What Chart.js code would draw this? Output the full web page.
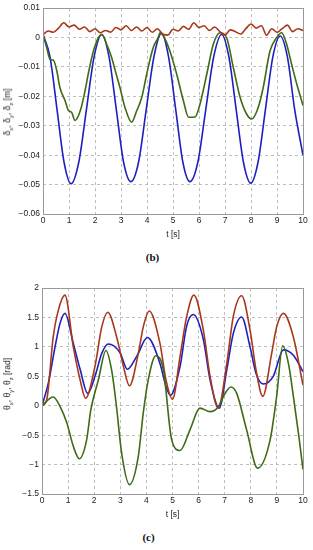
<!DOCTYPE html>
<html>
<head>
<meta charset="utf-8">
<script src="https://cdn.jsdelivr.net/npm/chart.js@4"></script>
<style>
  body { margin: 0; background: #fff; width: 313px; height: 550px; position: relative; overflow: hidden; }
  .box { position: absolute; left: 0; width: 313px; height: 240px; }
  .ylab { position: absolute; font: 8.5px "Liberation Sans", Arial, sans-serif; color: #222; white-space: nowrap;
          transform: translate(-50%, -50%) rotate(-90deg); }
  .ylab sub { font-size: 6px; }
  .cap { position: absolute; width: 313px; text-align: center; font: bold 11px "Liberation Serif", serif; color: #111; }
</style>
</head>
<body>
<div class="box" style="top:0"><canvas id="deltaChart"></canvas></div>
<div class="ylab" style="left:8px; top:112px">&delta;<sub>x</sub>, &delta;<sub>y</sub>, &delta;<sub>z</sub> [m]</div>
<div class="cap" style="top:251px; left:-4px">(b)</div>

<div class="box" style="top:280px"><canvas id="thetaChart"></canvas></div>
<div class="ylab" style="left:8px; top:384px">&theta;<sub>x</sub>, &theta;<sub>y</sub>, &theta;<sub>z</sub> [rad]</div>
<div class="cap" style="top:531px; left:-8px">(c)</div>

<script>
// x axis ticks, seconds
const timeTicks = [0, 1, 2, 3, 4, 5, 6, 7, 8, 9, 10];

// (b) displacement, metres -- [t, value] pairs
const deltaTicks = [0.01, 0, -0.01, -0.02, -0.03, -0.04, -0.05, -0.06];

const deltaBlue = [[0, 0.001], [0.27, -0.0066], [0.54, -0.0245], [0.81, -0.0424], [1.08, -0.0497],
  [1.375, -0.0424], [1.67, -0.0245], [1.965, -0.0066], [2.26, 0.001],
  [2.54, -0.0066], [2.82, -0.0245], [3.1, -0.0424], [3.38, -0.049],
  [3.675, -0.0424], [3.97, -0.0245], [4.265, -0.0066], [4.56, 0.0015],
  [4.83, -0.0066], [5.105, -0.0245], [5.38, -0.0424], [5.65, -0.049],
  [5.955, -0.0424], [6.26, -0.0245], [6.565, -0.0066], [6.87, 0.001],
  [7.15, -0.0066], [7.43, -0.0245], [7.71, -0.0424], [7.99, -0.0495],
  [8.27, -0.0424], [8.555, -0.0245], [8.84, -0.0066], [9.12, 0.0005],
  [9.4, -0.0066], [9.68, -0.0245], [10, -0.040]];

const deltaGreen = [[0, 0.001], [0.14, -0.0034], [0.27, -0.0074], [0.4, -0.0077], [0.53, -0.0113],
  [0.65, -0.017], [0.85, -0.0215], [0.98, -0.0248], [1.1, -0.0254], [1.23, -0.0282],
  [1.43, -0.025], [1.62, -0.018], [1.74, -0.0124], [1.94, -0.0046], [2.13, 0.0], [2.26, 0.001],
  [2.45, -0.0023], [2.64, -0.0068], [2.77, -0.011], [2.96, -0.017], [3.15, -0.0237], [3.41, -0.0288],
  [3.6, -0.025], [3.8, -0.0203], [3.99, -0.0124], [4.24, -0.0034], [4.43, 0.0], [4.5, 0.0016],
  [4.7, -0.0006], [4.88, -0.0046], [5.14, -0.0124], [5.4, -0.0215], [5.6, -0.0271], [5.85, -0.027],
  [6.04, -0.0226], [6.3, -0.0124], [6.55, -0.0023], [6.81, 0.0016], [7.06, 0.0], [7.32, -0.0102],
  [7.58, -0.0203], [7.83, -0.026], [8.03, -0.0277], [8.28, -0.0237], [8.47, -0.017], [8.73, -0.0046],
  [8.99, 0.0], [9.18, 0.0016], [9.37, -0.0023], [9.56, -0.009], [9.76, -0.0158], [10, -0.0231]];

const deltaRed = [[0, 0.0010], [0.2, 0.0022], [0.4, 0.0018], [0.6, 0.0032], [0.8, 0.0050], [1.0, 0.0036],
  [1.2, 0.0042], [1.4, 0.0028], [1.6, 0.0036], [1.8, 0.0020], [2.0, 0.0030], [2.2, 0.0016],
  [2.4, 0.0024], [2.6, 0.0018], [2.8, 0.0034], [3.0, 0.0026], [3.2, 0.0040], [3.4, 0.0024],
  [3.6, 0.0036], [3.8, 0.0022], [4.0, 0.0034], [4.2, 0.0018], [4.4, 0.0030], [4.6, 0.0012],
  [4.8, 0.0008], [5.0, 0.0028], [5.2, 0.0022], [5.4, 0.0038], [5.6, 0.0028], [5.8, 0.0050],
  [6.0, 0.0034], [6.2, 0.0040], [6.4, 0.0024], [6.6, 0.0036], [6.8, 0.0020], [7.0, 0.0008],
  [7.2, 0.0026], [7.4, 0.0020], [7.6, 0.0012], [7.8, 0.0030], [8.0, 0.0046], [8.2, 0.0032],
  [8.4, 0.0040], [8.6, 0.0008], [8.8, 0.0030], [9.0, 0.0018], [9.2, 0.0030], [9.4, 0.0042],
  [9.6, 0.0020], [9.8, 0.0030], [10.0, 0.0024]];

// (c) rotation, radians
const thetaTicks = [2, 1.5, 1, 0.5, 0, -0.5, -1, -1.5];

const thetaRed = [[0, 0], [0.18, 0.1], [0.43, 1.17], [0.63, 1.63], [0.88, 1.88], [1.2, 1.0], [1.46, 0.44],
  [1.67, 0.13], [2.03, 0.67], [2.29, 1.34], [2.52, 1.59], [2.86, 1.17], [3.12, 0.67], [3.35, 0.34],
  [3.69, 0.89], [3.88, 1.34], [4.11, 1.61], [4.52, 1.06], [4.75, 0.44], [5.0, 0.11], [5.29, 0.84],
  [5.54, 1.51], [5.82, 1.88], [6.18, 1.29], [6.44, 0.5], [6.75, -0.04], [7.08, 0.72], [7.33, 1.52],
  [7.65, 1.87], [7.97, 1.29], [8.2, 0.61], [8.46, 0.16], [8.8, 0.89], [8.99, 1.34], [9.25, 1.57],
  [9.63, 1.17], [10, 0.35]];

const thetaBlue = [[0, 0], [0.24, 0.38], [0.5, 1.0], [0.69, 1.4], [0.88, 1.57], [1.2, 1.06], [1.46, 0.62],
  [1.75, 0.21], [2.03, 0.5], [2.29, 0.89], [2.54, 1.05], [2.99, 0.9], [3.27, 0.62], [3.63, 0.84],
  [4.04, 1.16], [4.52, 0.72], [4.75, 0.33], [4.92, 0.18], [5.29, 0.67], [5.54, 1.35], [5.8, 1.55],
  [6.18, 1.13], [6.44, 0.44], [6.79, -0.04], [7.08, 0.61], [7.33, 1.23], [7.65, 1.51], [7.97, 1.0],
  [8.2, 0.55], [8.48, 0.37], [8.86, 0.5], [9.25, 0.95], [9.63, 0.86], [10, 0.58]];

const thetaGreen = [[0, 0], [0.43, 0.15], [0.69, -0.01], [0.95, -0.29], [1.2, -0.69], [1.43, -0.9],
  [1.71, -0.58], [1.87, -0.07], [2.16, 0.44], [2.45, 0.94], [2.67, 0.6], [2.85, 0.0], [3.05, -0.8],
  [3.35, -1.34], [3.69, -0.86], [3.88, -0.12], [4.07, 0.44], [4.36, 0.85], [4.65, 0.61], [4.97, -0.58],
  [5.29, -0.76], [5.67, -0.41], [6.05, -0.04], [6.44, -0.1], [6.75, -0.02], [7.0, 0.2], [7.24, 0.32],
  [7.46, 0.21], [7.84, -0.41], [8.26, -1.06], [8.74, -0.58], [8.99, 0.16], [9.22, 1.02], [9.45, 0.7],
  [9.65, 0.1], [9.85, -0.55], [10, -1.08]];

const BLUE = '#1f1fc0', GREEN = '#3d6b16', RED = '#a8381c';
const tickFont = { family: '"Liberation Sans", Arial, sans-serif', size: 8.5 };

function toXY(pairs) { return pairs.map(p => ({ x: p[0], y: p[1] })); }
function fmt(v) {
  const r = Math.round(v * 1000) / 1000;
  return r < 0 ? '\u2212' + String(-r) : String(r);
}

// box round the plot area, like matlab
const frame = {
  id: 'frame',
  afterDraw(chart) {
    const a = chart.chartArea, c = chart.ctx;
    c.save();
    c.strokeStyle = '#999';
    c.lineWidth = 1;
    c.strokeRect(Math.round(a.left) + 0.5, Math.round(a.top) + 0.5, Math.round(a.width), Math.round(a.height));
    c.restore();
  }
};

function line(pairs, color) {
  return { data: toXY(pairs), borderColor: color, borderWidth: 1.6, pointRadius: 0,
           cubicInterpolationMode: 'monotone', fill: false };
}

function makeChart(id, datasets, yTicks, yMin, yMax, leftW, padTop) {
  return new Chart(document.getElementById(id), {
    type: 'line',
    data: { datasets },
    options: {
      responsive: true, maintainAspectRatio: false, animation: false,
      layout: { padding: { left: 0, right: 10, top: padTop, bottom: 0 } },
      plugins: { legend: { display: false }, tooltip: { enabled: false } },
      scales: {
        x: {
          type: 'linear', min: 0, max: 10,
          afterBuildTicks: s => { s.ticks = timeTicks.map(v => ({ value: v })); },
          afterFit: s => { s.height = 26; },
          grid: { color: '#bdbdbd', drawTicks: false },
          border: { display: false, dash: [3, 3] },
          ticks: { font: tickFont, color: '#222', padding: 2, maxRotation: 0, callback: v => fmt(v) },
          title: { display: true, text: 't [s]', font: tickFont, color: '#222', padding: { top: 0, bottom: 0 } }
        },
        y: {
          min: yMin, max: yMax,
          afterBuildTicks: s => { s.ticks = yTicks.map(v => ({ value: v })); },
          afterFit: s => { s.width = leftW; },
          grid: { color: '#bdbdbd', drawTicks: false },
          border: { display: false, dash: [3, 3] },
          ticks: { font: tickFont, color: '#222', padding: 3, callback: v => fmt(v) }
        }
      }
    },
    plugins: [frame]
  });
}

makeChart('deltaChart',
  [line(deltaRed, RED), line(deltaGreen, GREEN), line(deltaBlue, BLUE)],
  deltaTicks, -0.06, 0.01, 43, 7);

makeChart('thetaChart',
  [line(thetaGreen, GREEN), line(thetaRed, RED), line(thetaBlue, BLUE)],
  thetaTicks, -1.5, 2, 42, 8);
</script>
</body>
</html>
